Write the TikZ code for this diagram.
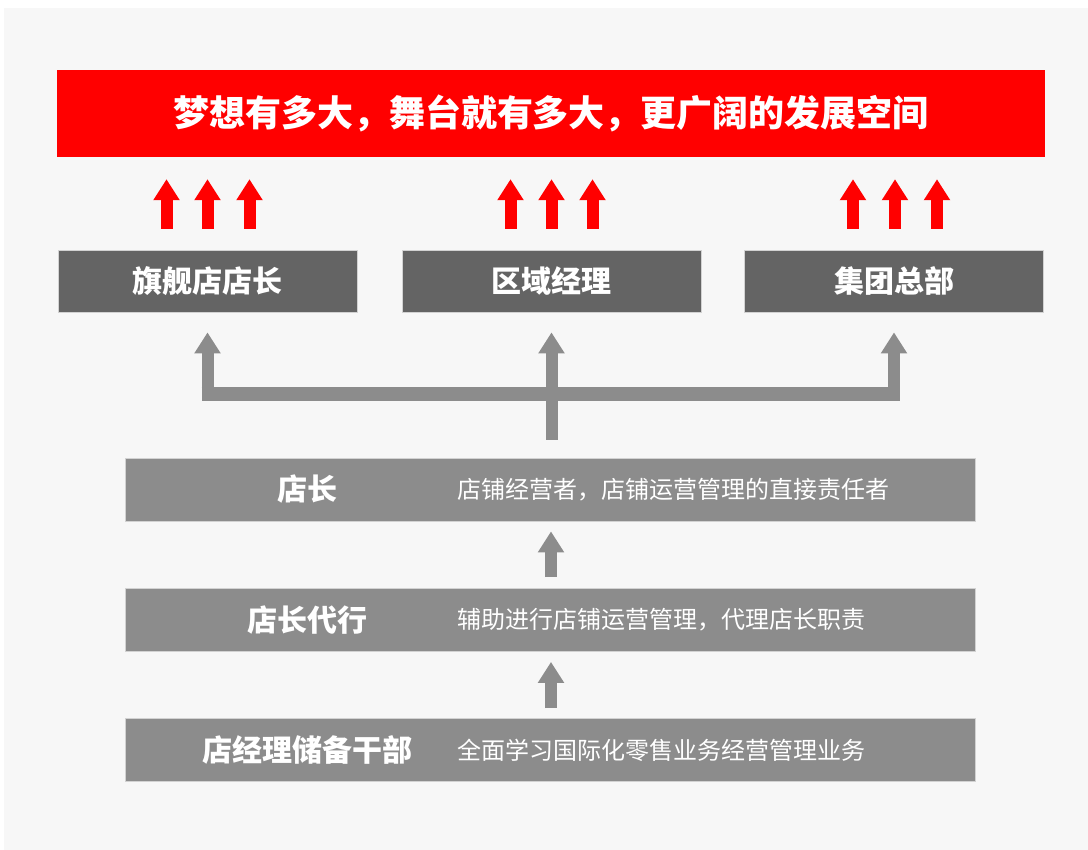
\documentclass[tikz,border=0pt]{standalone}
\usepackage{fontspec}
\newfontfamily\cjk{Noto Sans CJK SC}
\usetikzlibrary{arrows.meta,calc}
\definecolor{bgc}{HTML}{F7F7F7}
\definecolor{darkbox}{HTML}{646464}
\definecolor{lightbox}{HTML}{8C8C8C}
\definecolor{boxedge}{HTML}{D2D2D2}
\definecolor{redc}{HTML}{FF0000}
\tikzset{
  banner/.style={fill=redc, minimum width=988pt, minimum height=87pt, inner sep=0pt,
    text=white, font=\cjk\bfseries\fontsize{36pt}{40pt}\selectfont},
  topbox/.style={fill=darkbox, draw=boxedge, line width=0.8pt, minimum width=299pt, minimum height=62pt,
    inner sep=0pt, text=white, font=\cjk\bfseries\fontsize{30pt}{34pt}\selectfont},
  levelbox/.style={fill=lightbox, draw=boxedge, line width=0.8pt, minimum width=850pt, minimum height=63pt, inner sep=0pt},
  levellabel/.style={text=white, inner sep=0pt, font=\cjk\bfseries\fontsize{30pt}{34pt}\selectfont},
  leveldesc/.style={text=white, inner sep=0pt, anchor=west, font=\cjk\fontsize{24pt}{28pt}\selectfont},
  redarrow/.style={draw=redc, line width=12pt, -{Triangle[width=25pt,length=21pt]}},
  grayarrow/.style={draw=lightbox, line width=12pt, -{Triangle[width=25pt,length=21pt]}},
  graybar/.style={draw=lightbox, line width=14pt},
}
\begin{document}
\begin{tikzpicture}[x=1pt,y=-1pt]
\useasboundingbox (0,0) rectangle (1088,850);
\fill[white] (0,0) rectangle (1088,850);
\fill[bgc] (4,8) rectangle (1088,850);

\node[banner] (banner) at (551,113.5) {梦想有多大，舞台就有多大，更广阔的发展空间};

\node[topbox] (qj) at (207.5,281) {旗舰店店长};
\node[topbox] (qy) at (551.5,281) {区域经理};
\node[topbox] (jt) at (894,281) {集团总部};

% red arrows
\foreach \n/\dx in {qj/-41, qj/0, qj/42, qy/-41, qy/0, qy/41, jt/-41, jt/1, jt/43}{
  \draw[redarrow] ($(\n.north)+(\dx,-21)$) -- ($(\n.north |- banner.south)+(\dx,22)$);
}

\node[levelbox] (dz) at (550,489.5) {};
\node[levelbox] (dzdx) at (550,620) {};
\node[levelbox] (cb) at (550,750) {};

\node[levellabel] (l1) at (307,489.5) {店长};
\node[levellabel] (l2) at (307,620) {店长代行};
\node[levellabel] (l3) at (307,750) {店经理储备干部};
\node[leveldesc] (d1) at (457,489.5) {店铺经营者，店铺运营管理的直接责任者};
\node[leveldesc] (d2) at (457,620) {辅助进行店铺运营管理，代理店长职责};
\node[leveldesc] (d3) at (457,750) {全面学习国际化零售业务经营管理业务};

% gray connectors
\coordinate (stem) at ($(dz.north -| qy.south)+(0,-18)$);
\coordinate (bar) at (0,394);
\draw[graybar] ($(qj.south |- bar)+(-6,0)$) -- ($(jt.south |- bar)+(6,0)$);
\draw[grayarrow] ($(qj.south |- bar)+(0,7)$) -- ($(qj.south)+(0,20)$);
\draw[grayarrow] ($(jt.south |- bar)+(0,7)$) -- ($(jt.south)+(0,20)$);
\draw[grayarrow] (stem) -- ($(qy.south)+(0,20)$);
\draw[grayarrow] ($(dzdx.north)+(1,-11)$) -- ($(dz.south)+(1,10)$);
\draw[grayarrow] ($(cb.north)+(1,-10)$) -- ($(dzdx.south)+(1,10)$);
\end{tikzpicture}
\end{document}
